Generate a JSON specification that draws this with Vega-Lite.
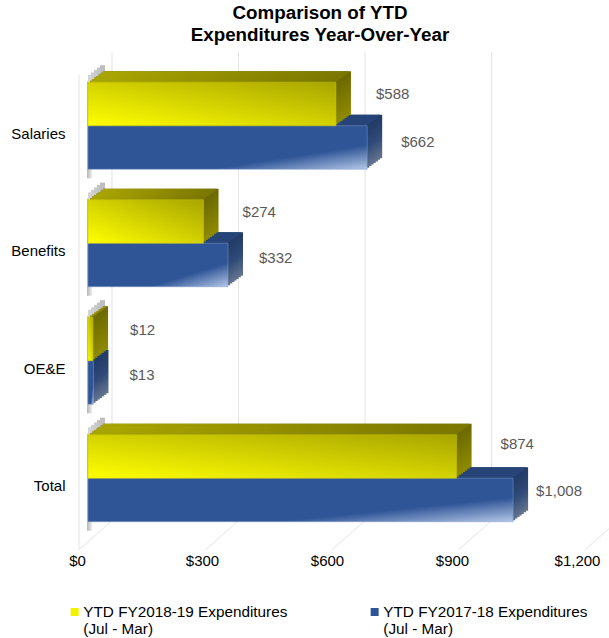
{"$schema":"https://vega.github.io/schema/vega-lite/v6.json","width":530,"height":500,"autosize":"none","padding":{"left":79,"top":52,"right":0,"bottom":86},"background":"white",
"config":{"view":{"stroke":null},"font":"Liberation Sans"},
"title":{"text":["Comparison of YTD","Expenditures Year-Over-Year"],"fontSize":18.8,"font":"Liberation Sans","fontWeight":"bold","color":"#000000","lineHeight":22,"dx":-24,"offset":6,"anchor":"middle"},
"data":{"values":[
{"category":"Salaries","series":"YTD FY2018-19 Expenditures","value":588},
{"category":"Salaries","series":"YTD FY2017-18 Expenditures","value":662},
{"category":"Benefits","series":"YTD FY2018-19 Expenditures","value":274},
{"category":"Benefits","series":"YTD FY2017-18 Expenditures","value":332},
{"category":"OE&E","series":"YTD FY2018-19 Expenditures","value":12},
{"category":"OE&E","series":"YTD FY2017-18 Expenditures","value":13},
{"category":"Total","series":"YTD FY2018-19 Expenditures","value":874},
{"category":"Total","series":"YTD FY2017-18 Expenditures","value":1008}]},
"encoding":{
"x":{"field":"value","type":"quantitative","stack":null,"scale":{"domain":[-21.3,1235.4],"zero":false,"nice":false},"axis":null},
"y":{"field":"category","type":"nominal","sort":["Salaries","Benefits","OE&E","Total"],"scale":{"paddingInner":0,"paddingOuter":0.1277},"axis":{"title":null,"ticks":false,"domain":false,"labelFontSize":15,"labelColor":"#000000","labelOffset":8,"labelPadding":14,"labelFont":"Liberation Sans"}}},
"resolve":{"scale":{"x":"independent"},"axis":{"x":"independent"}},
"layer":[
{"data":{"values":[{"tick":0},{"tick":300},{"tick":600},{"tick":900},{"tick":1200}]},
 "layer":[
 {"mark":{"type":"rule","color":"#e4e4e4","strokeWidth":1,"xOffset":24,"x2Offset":24,"yOffset":-74,"y2Offset":42.5},"encoding":{"x":{"field":"tick","type":"quantitative"},"y":{"datum":"Salaries"},"y2":{"datum":"Total"}}},
 {"mark":{"type":"rule","color":"#e4e4e4","strokeWidth":1,"xOffset":-9,"x2Offset":24,"yOffset":71.5,"y2Offset":42.5},"encoding":{"x":{"field":"tick","type":"quantitative"},"x2":{"field":"tick"},"y":{"datum":"Total"},"y2":{"datum":"Total"}}},
 {"transform":[{"filter":"datum.tick==0"}],"mark":{"type":"rule","color":"#e4e4e4","strokeWidth":1,"xOffset":-9,"x2Offset":-9,"yOffset":-51,"y2Offset":71.5},"encoding":{"x":{"field":"tick","type":"quantitative"},"y":{"datum":"Salaries"},"y2":{"datum":"Total"}}}
 ]},
{"transform":[{"filter":"datum.series=='YTD FY2018-19 Expenditures'"}],
 "encoding":{"x":{"datum":0},"x2":{"datum":0}},
 "layer":[
 {"mark":{"type":"bar","height":97,"xOffset":-1,"x2Offset":4,"yOffset":4,"fill":{"gradient":"linear","x1":0,"y1":0,"x2":1,"y2":0,"stops":[{"offset":0,"color":"#b5b5b5"},{"offset":1,"color":"#eeeeee"}]}}},
 {"mark":{"type":"bar","height":10,"xOffset":0,"x2Offset":6,"yOffset":-46,"fill":"#d4d4d4"}},
 {"mark":{"type":"bar","height":10,"xOffset":3,"x2Offset":9,"yOffset":-48.4,"fill":"#cfcfcf"}},
 {"mark":{"type":"bar","height":10,"xOffset":6,"x2Offset":12,"yOffset":-50.8,"fill":"#cacaca"}},
 {"mark":{"type":"bar","height":10,"xOffset":9,"x2Offset":15,"yOffset":-53.2,"fill":"#c4c4c4"}},
 {"mark":{"type":"bar","height":10,"xOffset":12,"x2Offset":17,"yOffset":-55.6,"fill":"#bebebe"}}
 ]},
{"transform":[{"filter":"datum.series=='YTD FY2017-18 Expenditures'"}],"encoding":{"x2":{"datum":0}},"layer":[
 {"mark":{"type":"bar","fill":{"gradient":"linear","x1":0,"y1":0,"x2":0,"y2":1,"stops":[{"offset":0,"color":"#213a66"},{"offset":0.5,"color":"#2f4a78"},{"offset":1,"color":"#65758f"}]},"height":43.5,"xOffset":15,"x2Offset":15,"yOffset":10.75}},
 {"mark":{"type":"bar","fill":{"gradient":"linear","x1":0,"y1":0,"x2":0,"y2":1,"stops":[{"offset":0,"color":"#213a66"},{"offset":0.5,"color":"#2f4a78"},{"offset":1,"color":"#65758f"}]},"height":43.5,"xOffset":12.86,"x2Offset":12.86,"yOffset":12.32}},
 {"mark":{"type":"bar","fill":{"gradient":"linear","x1":0,"y1":0,"x2":0,"y2":1,"stops":[{"offset":0,"color":"#213a66"},{"offset":0.5,"color":"#2f4a78"},{"offset":1,"color":"#65758f"}]},"height":43.5,"xOffset":10.71,"x2Offset":10.71,"yOffset":13.89}},
 {"mark":{"type":"bar","fill":{"gradient":"linear","x1":0,"y1":0,"x2":0,"y2":1,"stops":[{"offset":0,"color":"#213a66"},{"offset":0.5,"color":"#2f4a78"},{"offset":1,"color":"#65758f"}]},"height":43.5,"xOffset":8.57,"x2Offset":8.57,"yOffset":15.46}},
 {"mark":{"type":"bar","fill":{"gradient":"linear","x1":0,"y1":0,"x2":0,"y2":1,"stops":[{"offset":0,"color":"#213a66"},{"offset":0.5,"color":"#2f4a78"},{"offset":1,"color":"#65758f"}]},"height":43.5,"xOffset":6.43,"x2Offset":6.43,"yOffset":17.04}},
 {"mark":{"type":"bar","fill":{"gradient":"linear","x1":0,"y1":0,"x2":0,"y2":1,"stops":[{"offset":0,"color":"#213a66"},{"offset":0.5,"color":"#2f4a78"},{"offset":1,"color":"#65758f"}]},"height":43.5,"xOffset":4.29,"x2Offset":4.29,"yOffset":18.61}},
 {"mark":{"type":"bar","fill":{"gradient":"linear","x1":0,"y1":0,"x2":0,"y2":1,"stops":[{"offset":0,"color":"#213a66"},{"offset":0.5,"color":"#2f4a78"},{"offset":1,"color":"#65758f"}]},"height":43.5,"xOffset":2.14,"x2Offset":2.14,"yOffset":20.18}},
 {"mark":{"type":"bar","fill":"#264478","height":2.07,"xOffset":12.86,"x2Offset":15,"yOffset":-9.96}},
 {"mark":{"type":"bar","fill":"#264478","height":2.07,"xOffset":10.71,"x2Offset":12.86,"yOffset":-8.39}},
 {"mark":{"type":"bar","fill":"#264478","height":2.07,"xOffset":8.57,"x2Offset":10.71,"yOffset":-6.82}},
 {"mark":{"type":"bar","fill":"#264478","height":2.07,"xOffset":6.43,"x2Offset":8.57,"yOffset":-5.25}},
 {"mark":{"type":"bar","fill":"#264478","height":2.07,"xOffset":4.29,"x2Offset":6.43,"yOffset":-3.68}},
 {"mark":{"type":"bar","fill":"#264478","height":2.07,"xOffset":2.14,"x2Offset":4.29,"yOffset":-2.11}},
 {"mark":{"type":"bar","fill":"#264478","height":2.07,"xOffset":0,"x2Offset":2.14,"yOffset":-0.54}},
 {"mark":{"type":"bar","fill":{"gradient":"linear","x1":0,"y1":0,"x2":1,"y2":1,"stops":[{"offset":0,"color":"#2f5597"},{"offset":0.72,"color":"#2f5597"},{"offset":1,"color":"#b4c7e7"}]},"stroke":"#7f9ac8","strokeWidth":0.5,"height":43.5,"yOffset":21.75}}
]},
{"transform":[{"filter":"datum.series=='YTD FY2018-19 Expenditures'"}],"encoding":{"x2":{"datum":0}},"layer":[
 {"mark":{"type":"bar","fill":{"gradient":"linear","x1":0,"y1":0,"x2":0,"y2":1,"stops":[{"offset":0,"color":"#6b6800"},{"offset":1,"color":"#8f8b00"}]},"height":43.5,"xOffset":15,"x2Offset":15,"yOffset":-32.75}},
 {"mark":{"type":"bar","fill":{"gradient":"linear","x1":0,"y1":0,"x2":0,"y2":1,"stops":[{"offset":0,"color":"#6b6800"},{"offset":1,"color":"#8f8b00"}]},"height":43.5,"xOffset":12.86,"x2Offset":12.86,"yOffset":-31.18}},
 {"mark":{"type":"bar","fill":{"gradient":"linear","x1":0,"y1":0,"x2":0,"y2":1,"stops":[{"offset":0,"color":"#6b6800"},{"offset":1,"color":"#8f8b00"}]},"height":43.5,"xOffset":10.71,"x2Offset":10.71,"yOffset":-29.61}},
 {"mark":{"type":"bar","fill":{"gradient":"linear","x1":0,"y1":0,"x2":0,"y2":1,"stops":[{"offset":0,"color":"#6b6800"},{"offset":1,"color":"#8f8b00"}]},"height":43.5,"xOffset":8.57,"x2Offset":8.57,"yOffset":-28.04}},
 {"mark":{"type":"bar","fill":{"gradient":"linear","x1":0,"y1":0,"x2":0,"y2":1,"stops":[{"offset":0,"color":"#6b6800"},{"offset":1,"color":"#8f8b00"}]},"height":43.5,"xOffset":6.43,"x2Offset":6.43,"yOffset":-26.46}},
 {"mark":{"type":"bar","fill":{"gradient":"linear","x1":0,"y1":0,"x2":0,"y2":1,"stops":[{"offset":0,"color":"#6b6800"},{"offset":1,"color":"#8f8b00"}]},"height":43.5,"xOffset":4.29,"x2Offset":4.29,"yOffset":-24.89}},
 {"mark":{"type":"bar","fill":{"gradient":"linear","x1":0,"y1":0,"x2":0,"y2":1,"stops":[{"offset":0,"color":"#6b6800"},{"offset":1,"color":"#8f8b00"}]},"height":43.5,"xOffset":2.14,"x2Offset":2.14,"yOffset":-23.32}},
 {"mark":{"type":"bar","fill":{"gradient":"linear","x1":0,"y1":0,"x2":1,"y2":0,"stops":[{"offset":0,"color":"#aaa600"},{"offset":1,"color":"#7a7600"}]},"height":2.07,"xOffset":12.86,"x2Offset":15,"yOffset":-53.46}},
 {"mark":{"type":"bar","fill":{"gradient":"linear","x1":0,"y1":0,"x2":1,"y2":0,"stops":[{"offset":0,"color":"#aaa600"},{"offset":1,"color":"#7a7600"}]},"height":2.07,"xOffset":10.71,"x2Offset":12.86,"yOffset":-51.89}},
 {"mark":{"type":"bar","fill":{"gradient":"linear","x1":0,"y1":0,"x2":1,"y2":0,"stops":[{"offset":0,"color":"#aaa600"},{"offset":1,"color":"#7a7600"}]},"height":2.07,"xOffset":8.57,"x2Offset":10.71,"yOffset":-50.32}},
 {"mark":{"type":"bar","fill":{"gradient":"linear","x1":0,"y1":0,"x2":1,"y2":0,"stops":[{"offset":0,"color":"#aaa600"},{"offset":1,"color":"#7a7600"}]},"height":2.07,"xOffset":6.43,"x2Offset":8.57,"yOffset":-48.75}},
 {"mark":{"type":"bar","fill":{"gradient":"linear","x1":0,"y1":0,"x2":1,"y2":0,"stops":[{"offset":0,"color":"#aaa600"},{"offset":1,"color":"#7a7600"}]},"height":2.07,"xOffset":4.29,"x2Offset":6.43,"yOffset":-47.18}},
 {"mark":{"type":"bar","fill":{"gradient":"linear","x1":0,"y1":0,"x2":1,"y2":0,"stops":[{"offset":0,"color":"#aaa600"},{"offset":1,"color":"#7a7600"}]},"height":2.07,"xOffset":2.14,"x2Offset":4.29,"yOffset":-45.61}},
 {"mark":{"type":"bar","fill":{"gradient":"linear","x1":0,"y1":0,"x2":1,"y2":0,"stops":[{"offset":0,"color":"#aaa600"},{"offset":1,"color":"#7a7600"}]},"height":2.07,"xOffset":0,"x2Offset":2.14,"yOffset":-44.04}},
 {"mark":{"type":"bar","fill":{"gradient":"linear","x1":0,"y1":1,"x2":1,"y2":0,"stops":[{"offset":0,"color":"#ffff00"},{"offset":1,"color":"#a8a500"}]},"stroke":"#c9c600","strokeWidth":0.5,"height":43.5,"yOffset":-21.75}}
]},
{"mark":{"type":"bar","opacity":0,"height":1},"encoding":{"color":{"field":"series","type":"nominal","scale":{"domain":["YTD FY2018-19 Expenditures","YTD FY2017-18 Expenditures"],"range":["#f2f200","#2f5597"]},"legend":{"title":null,"orient":"none","legendX":-12,"legendY":552,"columns":2,"columnPadding":79,"symbolType":"square","symbolSize":64,"symbolOpacity":1,"labelFontSize":15.3,"labelColor":"#000000","labelFont":"Liberation Sans","labelOffset":1,"labelLimit":300,"labelExpr":"[datum.label,'(Jul - Mar)']"}}}},
{"data":{"values":[{"tick":0},{"tick":300},{"tick":600},{"tick":900},{"tick":1200}]},"mark":{"type":"rule","opacity":0},"encoding":{"x":{"field":"tick","type":"quantitative","scale":{"domain":[0,1272],"zero":false,"nice":false},"axis":{"title":null,"ticks":false,"domain":false,"grid":false,"values":[0,300,600,900,1200],"format":"$,d","labelFontSize":15,"labelColor":"#000000","labelPadding":1,"labelOffset":-2,"labelFont":"Liberation Sans","labelFlush":false,"labelOverlap":false}},"y":{"datum":"Total"}}},
{"layer":[
 {"transform":[{"filter":"datum.value==588"}],"mark":{"type":"text","align":"left","baseline":"middle","color":"#595959","fontSize":15,"dx":40,"dy":-32}},
 {"transform":[{"filter":"datum.value==662"}],"mark":{"type":"text","align":"left","baseline":"middle","color":"#595959","fontSize":15,"dx":34,"dy":16}},
 {"transform":[{"filter":"datum.value==274"}],"mark":{"type":"text","align":"left","baseline":"middle","color":"#595959","fontSize":15,"dx":39,"dy":-31.5}},
 {"transform":[{"filter":"datum.value==332"}],"mark":{"type":"text","align":"left","baseline":"middle","color":"#595959","fontSize":15,"dx":31,"dy":14.5}},
 {"transform":[{"filter":"datum.value==12"}],"mark":{"type":"text","align":"left","baseline":"middle","color":"#595959","fontSize":15,"dx":37,"dy":-30.5}},
 {"transform":[{"filter":"datum.value==13"}],"mark":{"type":"text","align":"left","baseline":"middle","color":"#595959","fontSize":15,"dx":36,"dy":14.5}},
 {"transform":[{"filter":"datum.value==874"}],"mark":{"type":"text","align":"left","baseline":"middle","color":"#595959","fontSize":15,"dx":44,"dy":-34}},
 {"transform":[{"filter":"datum.value==1008"}],"mark":{"type":"text","align":"left","baseline":"middle","color":"#595959","fontSize":15,"dx":23,"dy":12.5}}
],"encoding":{"text":{"field":"value","type":"quantitative","format":"$,d"}}}
]}
